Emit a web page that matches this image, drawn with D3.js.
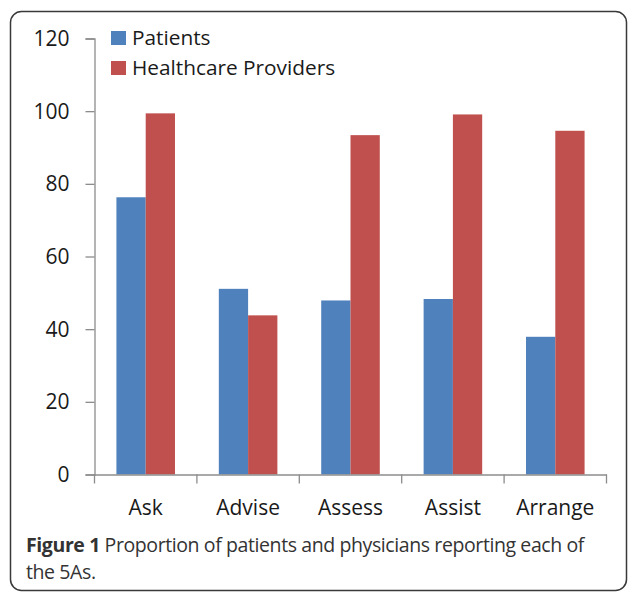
<!DOCTYPE html>
<html>
<head>
<meta charset="utf-8">
<script src="https://cdn.jsdelivr.net/npm/d3@7"></script>
<style>
  body { margin: 0; background: #fff; }
  text { font-family: "Open Sans", sans-serif; }
</style>
</head>
<body>
<script>
// values
const categories = ["Ask", "Advise", "Assess", "Assist", "Arrange"];
const seriesNames = ["Patients", "Healthcare Providers"];
const patients = [76.3, 51.1, 47.9, 48.3, 37.9];
const providers = [99.4, 43.8, 93.4, 99.1, 94.6];
const yTicks = [0, 20, 40, 60, 80, 100, 120];
const colors = ["#4f81bd", "#c0504d"];

const W = 630, H = 592;
const svg = d3.select("body").append("svg")
	.attr("width", W)
	.attr("height", H);

// rounded frame
svg.append("rect")
	.attr("x", 10.5).attr("y", 11.5)
	.attr("width", 616).attr("height", 579)
	.attr("rx", 11)
	.attr("fill", "none")
	.attr("stroke", "#3a3a3a")
	.attr("stroke-width", 1.5);

const x = d3.scaleBand()
	.domain(categories)
	.range([94.5, 606.5])
	.paddingInner(0.428)
	.paddingOuter(0.214);
const x1 = d3.scaleBand()
	.domain(seriesNames)
	.range([0, x.bandwidth()]);
const y = d3.scaleLinear()
	.domain([0, 120])
	.range([474.5, 38.5]);

let data = categories.map((c, i) => ({cat: c, vals: [patients[i], providers[i]]}));

svg.selectAll("g.grp")
	.data(data)
	.join("g")
		.attr("class", "grp")
		.attr("transform", d => "translate(" + x(d.cat) + ",0)")
	.selectAll("rect")
	.data(d => d.vals.map((v, i) => ({v: v, s: seriesNames[i], i: i})))
	.join("rect")
		.attr("x", d => x1(d.s))
		.attr("width", x1.bandwidth())
		.attr("y", d => y(d.v))
		.attr("height", d => y(0) - y(d.v))
		.attr("fill", d => colors[d.i]);

// y axis
const yAxis = svg.append("g")
	.attr("transform", "translate(94.5,0)")
	.call(d3.axisLeft(y).tickValues(yTicks).tickSize(9).tickPadding(16));
// x axis, ticks between categories
const xAxis = svg.append("g")
	.attr("transform", "translate(0,474.5)")
	.call(d3.axisBottom(x).tickSize(0).tickPadding(26));
const edges = categories.map(c => x(c) - x.step() * x.paddingInner() / 2).concat([606.5]);
edges[0] = 94.5;
xAxis.selectAll("line.sep")
	.data(edges)
	.join("line")
		.attr("class", "sep")
		.attr("x1", d => d).attr("x2", d => d)
		.attr("y1", 0).attr("y2", 9);

[yAxis, xAxis].forEach(a => {
	a.select(".domain").attr("stroke", "#8c8c8c").attr("stroke-width", 1.3);
	a.selectAll("line").attr("stroke", "#8c8c8c").attr("stroke-width", 1.3);
	a.selectAll("text")
		.attr("fill", "#1a1a1a")
		.style("font-size", "21px")
		.style("font-family", "'Open Sans', sans-serif");
});
yAxis.selectAll(".tick text").attr("dy", "0.33em");

// legend
const legend = svg.append("g");
seriesNames.forEach((s, i) => {
	legend.append("rect")
		.attr("x", 111).attr("y", 31 + i * 30)
		.attr("width", 15).attr("height", 14)
		.attr("fill", colors[i]);
	legend.append("text")
		.attr("x", 132).attr("y", 45 + i * 29.5)
		.attr("fill", "#1a1a1a")
		.style("font-size", "20.8px")
		.text(s);
});

// caption
const cap = svg.append("text")
	.attr("x", 26).attr("y", 552)
	.attr("fill", "#333")
	.style("font-size", "19.5px")
	.style("letter-spacing", "-0.4px");
cap.append("tspan").attr("font-weight", "bold").text("Figure 1");
cap.append("tspan").text(" Proportion of patients and physicians reporting each of");
svg.append("text")
	.attr("x", 26).attr("y", 579)
	.attr("fill", "#333")
	.style("font-size", "19.5px")
	.style("letter-spacing", "-0.4px")
	.text("the 5As.");
</script>
</body>
</html>
